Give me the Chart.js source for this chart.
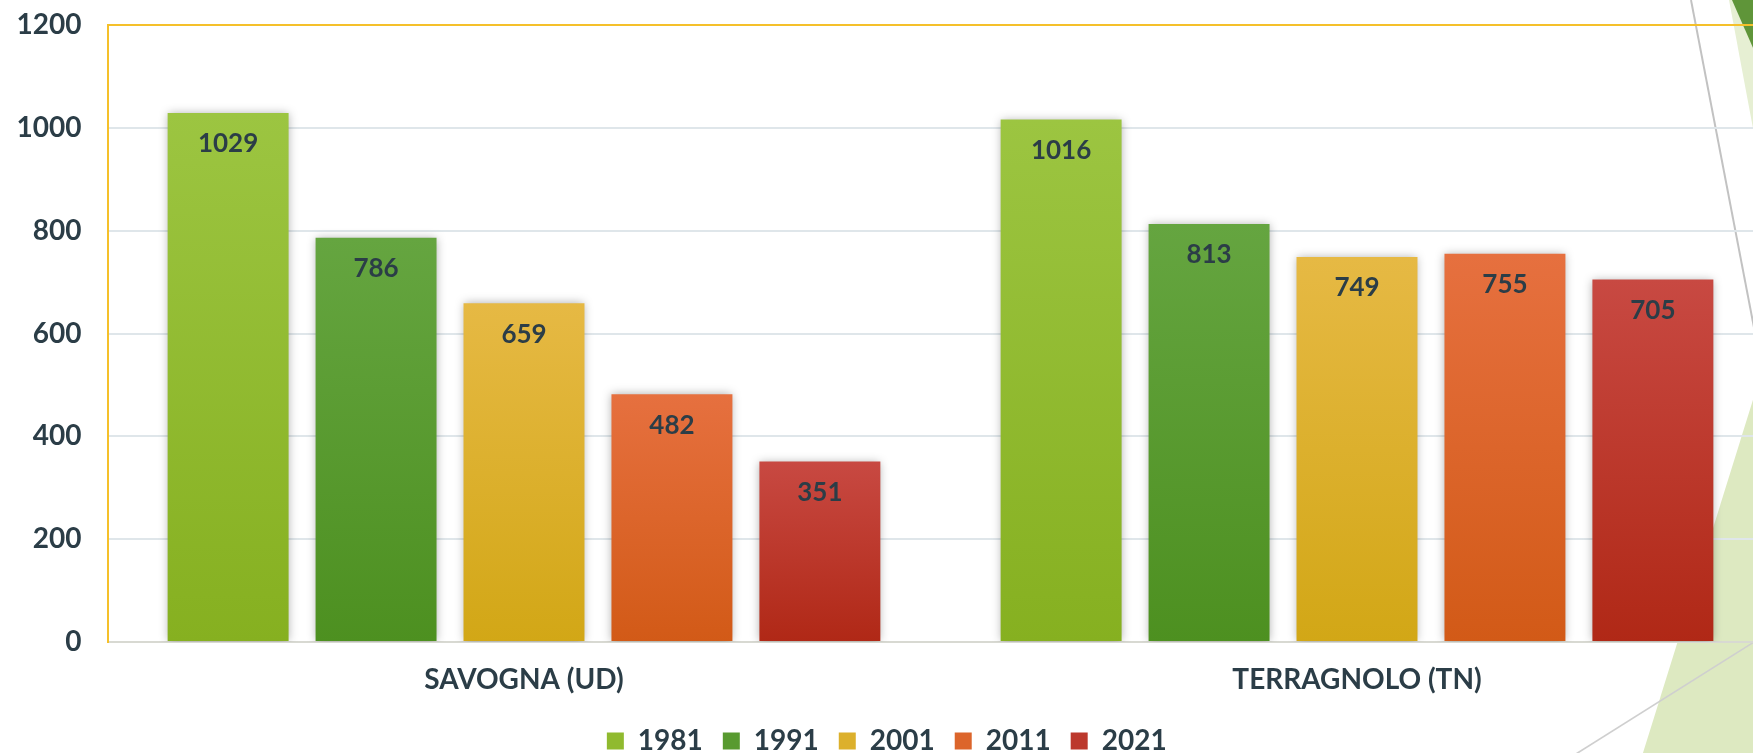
<!DOCTYPE html>
<html>
<head>
<meta charset="utf-8">
<script src="https://cdn.jsdelivr.net/npm/chart.js@4"></script>
<style>
  html, body { margin: 0; padding: 0; background: #ffffff; overflow: hidden; width: 1753px; height: 753px; }
  #wrap { position: absolute; left: 0; top: 0; width: 1790px; height: 765px; }
  canvas { display: block; }
</style>
</head>
<body>
<div id="wrap"><canvas id="c" width="1790" height="765"></canvas></div>
<script>
// ---- data ----
const categories = ['SAVOGNA (UD)', 'TERRAGNOLO (TN)'];
const years = ['1981', '1991', '2001', '2011', '2021'];
const values1981 = [1029, 1016];
const values1991 = [786, 813];
const values2001 = [659, 749];
const values2011 = [482, 755];
const values2021 = [351, 705];
const yTickValues = [0, 200, 400, 600, 800, 1000, 1200];

// ---- styles ----
const seriesValues = [values1981, values1991, values2001, values2011, values2021];
const topColors = ['#9cc541', '#65a540', '#e6b944', '#e6703f', '#c84942'];
const bottomColors = ['#86b020', '#4d9020', '#d2a716', '#d25a17', '#b02816'];
const midColors = ['#90ba2f', '#589a30', '#dcb02c', '#dc652b', '#bc382c'];
const textColor = '#2b3d47';
const gold = '#f5c02a';
const FONT = 'Lato, "Open Sans", "DejaVu Sans", sans-serif';

function barGradient(i) {
  return (ctx) => {
    const chart = ctx.chart;
    if (!chart.chartArea || ctx.type !== 'data') return midColors[i];
    const y = chart.scales.y;
    const top = y.getPixelForValue(ctx.raw);
    const bot = y.getPixelForValue(0);
    if (!isFinite(top) || !isFinite(bot) || top === bot) return midColors[i];
    const g = chart.ctx.createLinearGradient(0, top, 0, bot);
    g.addColorStop(0, topColors[i]);
    g.addColorStop(1, bottomColors[i]);
    return g;
  };
}

const datasets = years.map((yr, i) => ({
  label: yr,
  data: seriesValues[i],
  backgroundColor: barGradient(i),
  borderWidth: 0,
  categoryPercentage: 0.888,
  barPercentage: 0.8176
}));

// background slide decoration
const decoPlugin = {
  id: 'deco',
  beforeDraw(chart) {
    const c = chart.ctx;
    c.save();
    c.fillStyle = '#dde9c1';
    c.beginPath();
    c.moveTo(1633, 785); c.lineTo(1800, 249); c.lineTo(1800, 785); c.closePath(); c.fill();
    c.fillStyle = '#e6efd3';
    c.beginPath();
    c.moveTo(1729, 0); c.lineTo(1800, 0); c.lineTo(1800, 380); c.closePath(); c.fill();
    c.fillStyle = '#5f9539';
    c.beginPath();
    c.moveTo(1732, 0); c.lineTo(1800, 0); c.lineTo(1800, 155); c.closePath(); c.fill();
    c.strokeStyle = '#c2c2c2';
    c.lineWidth = 2;
    c.beginPath(); c.moveTo(1691, 0); c.lineTo(1791, 520); c.stroke();
    c.strokeStyle = '#cfcfcf';
    c.lineWidth = 1.5;
    c.beginPath(); c.moveTo(1560, 764); c.lineTo(1800, 613); c.stroke();
    c.restore();
  }
};

// soft shadow around bars
const shadowPlugin = {
  id: 'barShadow',
  beforeDatasetsDraw(chart) {
    const c = chart.ctx;
    c.save();
    c.shadowColor = 'rgba(0,0,0,0.32)';
    c.shadowBlur = 9;
    c.shadowOffsetX = 0;
    c.shadowOffsetY = 0;
  },
  afterDatasetsDraw(chart) {
    chart.ctx.restore();
  }
};

// value labels inside bar tops
const labelPlugin = {
  id: 'valueLabels',
  afterDatasetsDraw(chart) {
    const c = chart.ctx;
    c.save();
    c.font = 'bold 26px ' + FONT;
    c.fillStyle = textColor;
    c.textAlign = 'center';
    c.textBaseline = 'middle';
    chart.data.datasets.forEach((ds, di) => {
      const meta = chart.getDatasetMeta(di);
      meta.data.forEach((el, idx) => {
        c.fillText(String(ds.data[idx]), el.x, el.y + 31);
      });
    });
    c.restore();
  }
};

new Chart(document.getElementById('c'), {
  type: 'bar',
  data: { labels: categories, datasets: datasets },
  options: {
    responsive: false,
    animation: false,
    devicePixelRatio: 1,
    layout: { padding: { left: 0, right: 16.5, top: 25, bottom: 0 } },
    plugins: {
      tooltip: { enabled: false },
      legend: {
        position: 'bottom',
        align: 'center',
        labels: {
          color: textColor,
          font: { family: FONT, size: 28, weight: 'bold' },
          boxWidth: 17,
          boxHeight: 17,
          padding: 20,
          generateLabels: (chart) => chart.data.datasets.map((ds, i) => ({
            text: ds.label,
            fillStyle: midColors[i],
            strokeStyle: midColors[i],
            lineWidth: 0,
            fontColor: textColor,
            hidden: false,
            datasetIndex: i
          }))
        }
      }
    },
    scales: {
      x: {
        grid: { display: false, drawTicks: false },
        border: { display: true, color: '#d8d9d2', width: 2 },
        ticks: {
          color: textColor,
          font: { family: FONT, size: 28, weight: 'bold' },
          padding: 21,
          maxRotation: 0
        },
        afterFit: (s) => { s.height = 65; }
      },
      y: {
        min: 0,
        max: 1200,
        afterBuildTicks: (s) => { s.ticks = yTickValues.map(v => ({ value: v })); },
        grid: {
          drawTicks: false,
          lineWidth: 2,
          color: (ctx) => {
            const v = ctx.tick ? ctx.tick.value : null;
            if (v === 1200) return gold;
            if (v === 0) return '#d8d9d2';
            return '#dfe6ea';
          }
        },
        border: { display: true, color: gold, width: 2 },
        ticks: {
          color: textColor,
          font: { family: FONT, size: 28, weight: 'bold' },
          padding: 26,
          callback: (v) => String(v)
        },
        afterFit: (s) => { s.width = 107.5; s.paddingTop = 0; s.paddingBottom = 0; }
      }
    }
  },
  plugins: [decoPlugin, shadowPlugin, labelPlugin]
});
</script>
</body>
</html>
